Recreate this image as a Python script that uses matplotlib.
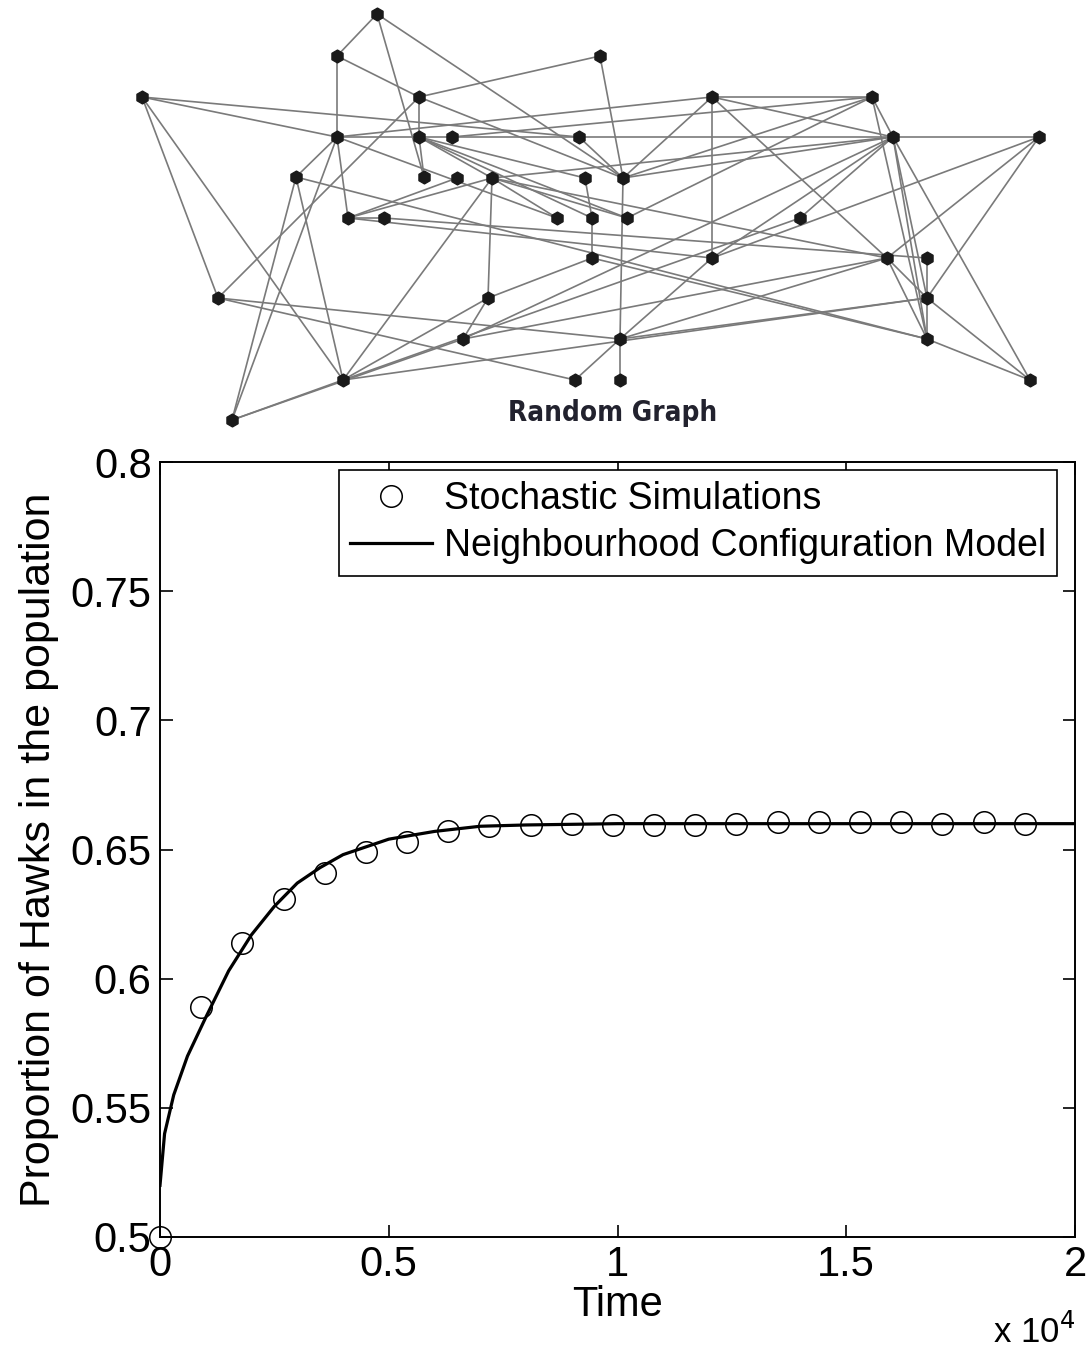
import matplotlib
matplotlib.use('Agg')
import matplotlib.pyplot as plt

plt.rcParams['font.family'] = ['Liberation Sans', 'DejaVu Sans']

# random graph: node positions (picture frame, y downward) and edges
node_x = [377, 337, 600, 142, 419, 712, 872, 337, 419, 452, 579, 893, 1039,
          296, 424, 457, 492, 585, 623, 348, 384, 557, 592, 627, 800,
          592, 712, 887, 927, 218, 488, 927, 463, 620, 927, 343, 575, 620, 1030, 232]
node_y = [14, 56, 56, 97, 97, 97, 97, 137, 137, 137, 137, 137, 137,
          177, 177, 178, 178, 178, 178, 218, 218, 218, 218, 218, 218,
          258, 258, 258, 258, 298, 298, 298, 339, 339, 339, 380, 380, 380, 380, 420]
names = ['A', 'B', 'C', 'D', 'E', 'F', 'G', 'H', 'I', 'J', 'K', 'L', 'M',
         'N', 'O', 'P', 'Q', 'R', 'S', 'T', 'U', 'V', 'W', 'X', 'Y',
         'Z', 'a', 'b', 'c', 'd', 'e', 'f', 'g', 'h', 'i', 'j', 'k', 'l', 'm', 'n']
edges = ['AB', 'AS', 'AO', 'BH', 'HT', 'BE', 'DH', 'DK', 'Dd', 'Dj',
         'EI', 'EC', 'Ed', 'ES', 'CS', 'Fa', 'FS', 'FH', 'FG', 'FL', 'Fb',
         'IO', 'IQ', 'IX', 'IW', 'IR', 'JG', 'KS', 'RW', 'Sh', 'hl', 'WZ',
         'NH', 'Nj', 'Nn', 'Hn', 'nj', 'jQ', 'je', 'jY', 'jf', 'ng',
         'dk', 'dh', 'Qe', 'eg', 'eZ', 'gb', 'hb', 'hf', 'kh', 'Zi',
         'aL', 'ah', 'Ta', 'Ni', 'YL', 'Qb', 'bi', 'bM', 'bf', 'cf', 'fi',
         'fm', 'Lf', 'Li', 'Gi', 'Lm', 'im', 'fM', 'ML', 'GL', 'HV', 'TP',
         'TQ', 'Uc', 'TU', 'XG', 'QV', 'QX', 'SG', 'SL', 'HL', 'QL', 'gL', 'Ma']

# simulation results
sim_t = [0, 900, 1800, 2700, 3600, 4500, 5400, 6300, 7200, 8100, 9000,
         9900, 10800, 11700, 12600, 13500, 14400, 15300, 16200, 17100, 18000, 18900]
sim_p = [0.500, 0.589, 0.614, 0.631, 0.641, 0.649, 0.653, 0.657, 0.659, 0.6595, 0.660,
         0.6595, 0.6595, 0.6595, 0.660, 0.6605, 0.6605, 0.6605, 0.6605, 0.660, 0.6605, 0.660]

# neighbourhood configuration model
model_t = [0, 100, 300, 600, 1000, 1500, 2000, 2500, 3000, 3500, 4000,
           4500, 5000, 6000, 7000, 8000, 10000, 15000, 20000]
model_p = [0.520, 0.540, 0.555, 0.570, 0.585, 0.603, 0.617, 0.628, 0.637, 0.643, 0.648,
           0.651, 0.654, 0.657, 0.659, 0.6595, 0.660, 0.660, 0.660]

W, H = 1089, 1353
fig = plt.figure(figsize=(W / 100, H / 100), dpi=100)

# top: the graph drawing
gax = fig.add_axes([0, 1 - 440 / H, 1, 440 / H])
gax.set_xlim(0, W)
gax.set_ylim(440, 0)
gax.axis('off')
idx = {n: i for i, n in enumerate(names)}
for e in edges:
    a, b = idx[e[0]], idx[e[1]]
    gax.plot([node_x[a], node_x[b]], [node_y[a], node_y[b]], color='#7a7a7a', lw=1.2, zorder=1)
gax.scatter(node_x, node_y, s=85, color='#1a1a1a', marker='h', zorder=2)
gax.text(613, 413, 'Random Graph', ha='center', va='center', fontsize=20,
         family='DejaVu Sans', fontstretch='condensed', fontweight='bold',
         color='#22222e')

# bottom: the time series
ax = fig.add_axes([160 / W, 1 - 1237 / H, 915 / W, 775 / H])
ax.plot(sim_t, sim_p, 'o', mfc='none', mec='black', ms=15.5, mew=1.1,
        label='Stochastic Simulations', clip_on=False, zorder=3)
ax.plot(model_t, model_p, '-', color='black', lw=2.3,
        label='Neighbourhood Configuration Model')
ax.set_xlim(0, 20000)
ax.set_ylim(0.5, 0.8)
ax.set_xticks([0, 5000, 10000, 15000, 20000])
ax.set_xticklabels(['0', '0.5', '1', '1.5', '2'])
ax.set_yticks([0.5, 0.55, 0.6, 0.65, 0.7, 0.75, 0.8])
ax.set_yticklabels(['0.5', '0.55', '0.6', '0.65', '0.7', '0.75', '0.8'])
ax.tick_params(direction='in', top=True, right=True, length=9, width=1.2,
               labelsize=30, pad=6)
for s in ax.spines.values():
    s.set_linewidth(1.4)
ax.set_xlabel('Time', fontsize=30, labelpad=0)
ax.set_ylabel('Proportion of Hawks in the population', fontsize=31, labelpad=8)
ax.text(1.0, -0.137, r'x 10$^4$', transform=ax.transAxes, ha='right',
        va='baseline', fontsize=25)

leg = ax.legend(loc='upper right', bbox_to_anchor=(1 - 18 / 915, 1 - 8 / 775),
                fontsize=27, frameon=True, fancybox=False, framealpha=1,
                edgecolor='black', borderaxespad=0, handlelength=2.2,
                handletextpad=0.3, borderpad=0.3, labelspacing=0.3)
leg.get_frame().set_linewidth(1.2)

fig.savefig('out.png', dpi=100)
